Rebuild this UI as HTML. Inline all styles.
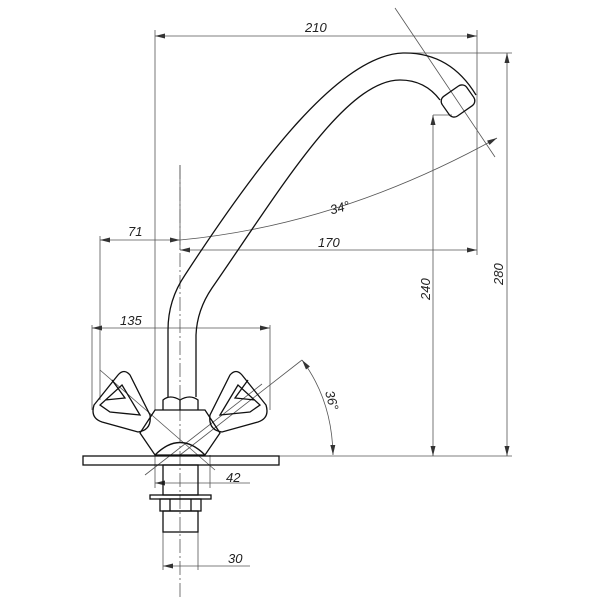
<!DOCTYPE html>
<html><head><style>body{margin:0;background:#fff}svg{display:block}text{font-family:"Liberation Sans",sans-serif;font-style:italic;font-size:13px;fill:#222}</style></head><body>
<svg width="600" height="600" viewBox="0 0 600 600">
<defs><marker id="a" markerWidth="10" markerHeight="6" refX="10" refY="3" orient="auto-start-reverse" markerUnits="userSpaceOnUse"><path d="M0,0.5 L10,3 L0,5.5z" fill="#333"/></marker></defs>
<g stroke="#555" stroke-width="0.8" fill="none">
<line x1="155" y1="30" x2="155" y2="410"/>
<line x1="477" y1="30" x2="477" y2="255"/>
<line x1="405" y1="53" x2="512" y2="53"/>
<line x1="433" y1="115" x2="452" y2="115"/>
<line x1="83" y1="456" x2="512" y2="456"/>
<line x1="180" y1="165" x2="180" y2="250"/>
<line x1="100" y1="236" x2="100" y2="400"/>
<line x1="92" y1="325" x2="92" y2="410"/>
<line x1="270" y1="325" x2="270" y2="410"/>
<line x1="155" y1="455" x2="155" y2="488"/>
<line x1="210" y1="455" x2="210" y2="488"/>
<line x1="163" y1="532" x2="163" y2="570"/>
<line x1="198" y1="532" x2="198" y2="570"/>
<line x1="155" y1="36" x2="477" y2="36" marker-start="url(#a)" marker-end="url(#a)"/>
<line x1="100" y1="240" x2="180" y2="240" marker-start="url(#a)" marker-end="url(#a)"/>
<line x1="180" y1="250" x2="477" y2="250" marker-start="url(#a)" marker-end="url(#a)"/>
<line x1="92" y1="328" x2="270" y2="328" marker-start="url(#a)" marker-end="url(#a)"/>
<line x1="433" y1="115" x2="433" y2="456" marker-start="url(#a)" marker-end="url(#a)"/>
<line x1="507" y1="53" x2="507" y2="456" marker-start="url(#a)" marker-end="url(#a)"/>
<line x1="155" y1="483" x2="250" y2="483" marker-start="url(#a)"/>
<line x1="163" y1="566" x2="250" y2="566" marker-start="url(#a)"/>
<path d="M180,240 Q340,225 497,138" marker-end="url(#a)"/>
<line x1="395" y1="8" x2="495" y2="157"/>
<line x1="180" y1="455" x2="302" y2="360"/>
<path d="M302,360 Q332,400 333,455" marker-start="url(#a)" marker-end="url(#a)"/>
<line x1="100" y1="370" x2="215" y2="470"/>
<line x1="145" y1="475" x2="262" y2="384"/>
<line x1="180" y1="165" x2="180" y2="600" stroke-dasharray="14,3,2,3"/>
</g>
<g stroke="#111" stroke-width="1.3" fill="none">
<path d="M168,397 L168,330 Q168,300 185,275 C260,160 340,55 403,53 Q450,52 476,95"/>
<path d="M196,397 L196,335 Q197,310 212,288 C280,190 345,80 400,80 Q425,80 440,100"/>
<rect x="443" y="89" width="30" height="24" rx="6" transform="rotate(-35 458 101)"/>
<path d="M163,410 L163,400 Q170,394 180,400 Q190,394 198,400 L198,410"/>
<line x1="180" y1="400" x2="180" y2="410"/>
<path d="M155,410 L205,410 L220,433 L205,455 L155,455 L140,433 Z"/>
<path d="M155,455 Q180,430 205,455"/>
<rect x="83" y="456" width="196" height="9"/>
<rect x="163" y="465" width="35" height="30"/>
<rect x="150" y="495" width="61" height="4"/>
<rect x="160" y="499" width="41" height="12"/>
<line x1="170" y1="499" x2="170" y2="511"/><line x1="191" y1="499" x2="191" y2="511"/>
<rect x="163" y="511" width="35" height="21"/>
<path d="M118,375 Q124,368 130,375 L150,415 Q152,430 138,432 L102,422 Q90,418 94,405 Z"/>
<path d="M122,385 L140,415 L110,412 L100,405 Z M112,380 L125,398 L105,400"/>
<path d="M242,375 Q236,368 230,375 L210,415 Q208,430 222,432 L258,422 Q270,418 266,405 Z"/>
<path d="M238,385 L220,415 L250,412 L260,405 Z M248,380 L235,398 L255,400"/>
</g>
<text x="305" y="32">210</text>
<text x="128" y="236">71</text>
<text x="318" y="247">170</text>
<text x="120" y="325">135</text>
<text x="330" y="212" transform="rotate(-15 340 208)">34°</text>
<text x="226" y="482">42</text>
<text x="228" y="563">30</text>
<text transform="translate(430,300) rotate(-90)">240</text>
<text transform="translate(503,285) rotate(-90)">280</text>
<text transform="translate(325,392) rotate(75)">36°</text>
</svg>
</body></html>
